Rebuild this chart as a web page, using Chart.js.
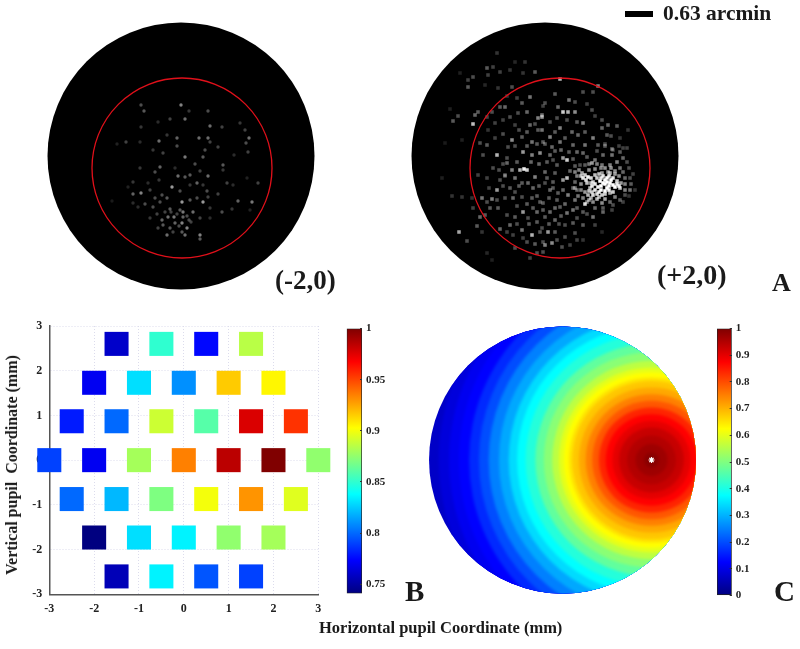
<!DOCTYPE html>
<html lang="en">
<head>
  <meta charset="UTF-8" />
  <title>Pupil coordinate maps</title>
  <script src="https://cdn.jsdelivr.net/npm/chart.js"></script>
  <style>
    html, body { margin: 0; background: #fff; }
    #page {
      position: relative;
      width: 800px;
      height: 649px;
      overflow: hidden;
      filter: blur(0.45px);
      font-family: 'Liberation Serif', serif;
      font-weight: bold;
      color: #1a1a1a;
    }
    canvas, .label, #bar { position: absolute; }
    .label { white-space: pre; line-height: 1; }
    #bar { left: 625px; top: 11px; width: 28px; height: 6px; background: #000; }
  </style>
</head>
<body>
<div id="page">
  <canvas id="spotLeft" width="268" height="268" style="left:47px;top:22px"></canvas>
  <canvas id="spotRight" width="268" height="268" style="left:411px;top:22px"></canvas>
  <canvas id="pupilMap" width="340" height="325" style="left:0;top:300px"></canvas>
  <canvas id="pupilBar" width="60" height="290" style="left:340px;top:316px"></canvas>
  <canvas id="fitMap" width="267" height="268" style="left:429px;top:326px"></canvas>
  <canvas id="fitBar" width="60" height="292" style="left:710px;top:316px"></canvas>

  <div id="bar"></div>
  <div class="label" style="left:663px;top:3px;font-size:21.5px">0.63 arcmin</div>
  <div class="label" style="left:275px;top:267px;font-size:27px">(-2,0)</div>
  <div class="label" style="left:657px;top:261px;font-size:28px">(+2,0)</div>
  <div class="label" style="left:772px;top:270px;font-size:26px">A</div>
  <div class="label" style="left:405px;top:577px;font-size:29px">B</div>
  <div class="label" style="left:774px;top:577px;font-size:29px">C</div>
  <div class="label" style="left:319px;top:620px;font-size:16.5px">Horizontal pupil Coordinate (mm)</div>
  <div class="label" style="left:12px;top:465px;font-size:16px;transform:translate(-50%,-50%) rotate(-90deg)">Vertical pupil  Coordinate (mm)</div>
</div>

<script>
  // panel A, spots: [x, y, brightness], image px from the disk centre
  const leftSpots = [
    [0,-51,.6],[-40,-51,.35],[-37,-45,.4],[4,-37,.5],[27,-45,.35],[8,-45,.25],[29,-30,.5],[-11,-37,.3],
    [-23,-34,.2],[-40,-29,.25],[41,-29,.3],[59,-33,.25],[64,-26,.3],[68,-18,.5],[65,-13,.35],[18,-18,.5],
    [27,-18,.5],[-4,-18,.45],[-22,-15,.5],[-14,-21,.25],[-55,-14,.3],[-64,-12,.15],[-41,-14,.2],[29,-14,.3],
    [37,-9,.3],[-4,-10,.35],[-28,-6,.25],[-18,-3,.3],[4,1,.55],[24,-6,.35],[22,1,.4],[67,-4,.3],
    [53,-1,.2],[14,8,.35],[42,9,.4],[-21,11,.45],[-41,12,.25],[-26,16,.35],[19,15,.3],[-3,20,.5],
    [4,21,.4],[9,19,.4],[27,20,.5],[42,14,.25],[16,27,.45],[-22,24,.25],[-48,26,.25],[46,27,.3],
    [77,27,.3],[-9,31,.7],[-1,35,.35],[-31,34,.3],[-40,37,.6],[-48,38,.45],[26,35,.35],[37,38,.3],
    [-53,31,.15],[-19,39,.35],[-26,42,.35],[1,46,.7],[22,46,.7],[16,42,.35],[57,45,.45],[71,46,.55],
    [-36,48,.35],[-28,51,.35],[-48,47,.2],[-69,45,.12],[-11,53,.4],[12,56,.5],[2,56,.55],[-1,54,.4],
    [41,56,.35],[29,52,.25],[51,53,.25],[-7,61,.55],[-13,61,.5],[-19,64,.45],[1,67,.6],[-6,67,.45],
    [-18,69,.4],[6,72,.6],[-11,72,.4],[1,76,.4],[-14,79,.5],[4,79,.5],[19,79,.6],[19,83,.4],
    [-23,72,.3],[29,62,.2],[-31,62,.25],[19,62,.3],[69,54,.15],[-43,51,.2],[2,61,.45],[9,44,.4],
    [-14,42,.4],[-21,46,.35],[27,41,.3],[9,29,.25],[22,29,.25],[-6,12,.2],[-33,27,.2],[66,22,.15],
    [52,29,.2],[-10,56,.3],[-4,58,.3],[8,64,.35],[-24,58,.3],[-16,56,.3],[-2,70,.35],[10,66,.3],
    [-8,76,.3],[6,60,.35]
  ];
  const rightSpots = [
    [-48,-103,.2],[-58,-88,.35],[-52,-89,.25],[-45,-84,.25],[-35,-86,.2],[-30,-94,.15],[-20,-94,.2],[-10,-84,.35],
    [-22,-83,.2],[-77,-76,.25],[-72,-79,.3],[-77,-69,.35],[-57,-81,.25],[-85,-83,.12],[-33,-69,.3],[-47,-68,.2],
    [-60,-71,.15],[-15,-59,.45],[-23,-53,.35],[-40,-49,.4],[-45,-49,.35],[-67,-44,.35],[-70,-41,.4],[-87,-40,.3],
    [-92,-35,.35],[-95,-47,.12],[-72,-32,.75],[-58,-39,.25],[-53,-44,.3],[-7,-38,.5],[-3,-41,.45],[-18,-44,.4],
    [-27,-43,.3],[-35,-39,.3],[-15,-31,.4],[-42,-36,.25],[-50,-33,.25],[-30,-31,.25],[-7,-26,.35],[-57,-26,.2],
    [-33,-16,.55],[-23,-19,.35],[-13,-14,.45],[-58,-11,.35],[-65,-13,.3],[-48,-1,.7],[-22,-4,.6],[-13,-1,.5],
    [-5,-3,.55],[-37,-9,.3],[-83,-16,.12],[-100,-13,.1],[-38,2,.3],[-62,-1,.3],
    [-21,13,.95],[-25,14,.7],[-18,14,.8],[-38,7,.4],[-33,14,.5],[-40,19,.35],[-30,22,.45],[-48,34,.6],
    [-45,24,.3],[-58,22,.25],[-67,19,.25],[-10,21,.5],[-17,27,.4],[-23,27,.35],[-35,32,.35],[-63,42,.45],
    [-53,43,.5],[-40,42,.3],[-32,42,.4],[-23,41,.3],[-13,42,.35],[-5,46,.35],[-73,42,.2],[-83,41,.2],
    [-93,40,.2],[-103,22,.12],[-47,52,.35],[-55,52,.35],[-22,56,.6],[-30,61,.35],[-38,59,.3],[-60,59,.35],
    [-65,61,.4],[-8,56,.4],[-17,62,.3],[-35,69,.4],[-45,73,.4],[-68,70,.35],[-23,74,.45],[-13,79,.7],
    [-32,79,.25],[-86,76,.65],[-78,85,.3],[-63,76,.2],[-5,76,.35],[-22,82,.25],[-2,86,.3],[-30,92,.3],
    [-58,97,.15],[-15,102,.25],[-53,104,.12],[-8,97,.3],
    [15,-77,.7],[53,-70,.5],[24,-56,.45],[10,-62,.35],[38,-64,.3],[48,-64,.3],[18,-44,.8],[23,-44,.7],
    [30,-44,.55],[13,-49,.4],[0,-53,.3],[-3,-39,.6],[5,-34,.3],[47,-46,.3],[57,-36,.3],[38,-33,.5],
    [63,-31,.4],[72,-30,.35],[57,-28,.4],[83,-26,.2],[27,-24,.4],[15,-28,.5],[5,-19,.5],[33,-21,.4],
    [48,-18,.5],[62,-21,.35],[75,-18,.2],[-3,-26,.45],[40,-11,.45],[28,-11,.4],[15,-14,.45],[53,-11,.35],
    [67,-7,.4],[82,-8,.25],[7,-9,.4],
    [62,22,1],[58,27,1],[65,27,1],[70,31,1],[53,31,.95],[62,32,1],[48,26,.8],[43,21,.95],
    [38,22,.9],[50,19,.75],[57,17,.6],[65,17,.65],[75,32,.8],[80,34,.5],[85,34,.45],[45,32,.7],
    [48,39,.85],[43,39,.7],[57,39,.8],[65,37,.65],[40,36,.6],[37,17,.65],[47,7,.6],[50,4,.45],
    [65,9,.5],[72,6,.5],[67,-1,.45],[78,2,.4],[75,-4,.35],[85,22,.3],[80,22,.4],[75,12,.45],
    [57,9,.45],[35,9,.3],[22,4,.8],[18,2,.6],[22,22,.75],[18,24,.6],[5,-1,.4],[12,9,.35],
    [0,16,.4],[10,17,.35],[30,26,.4],[8,26,.35],[5,34,.4],[0,27,.3],[23,39,.5],[18,34,.4],
    [32,34,.4],[13,37,.35],[30,44,.45],[40,48,.85],[57,47,.55],[48,46,.55],[65,46,.4],[75,44,.35],
    [38,56,.35],[48,61,.45],[58,56,.4],[67,54,.25],[28,54,.45],[22,57,.45],[15,51,.35],[5,56,.4],
    [-2,47,.35],[10,64,.4],[0,61,.35],[28,67,.35],[38,69,.35],[20,69,.3],[50,69,.25],[3,76,.6],
    [10,76,.35],[20,81,.3],[30,77,.3],[0,89,.5],[7,87,.55],[17,91,.3],[-2,96,.3],[25,89,.25],
    [38,84,.2],[57,76,.15],[-3,72,.3],
    [56,22,.9],[52,22,.8],[68,22,.9],[72,25,.8],[60,35,1],[54,36,.9],[68,36,.8],[46,27,.7],
    [42,27,.75],[76,27,.6],[63,16,.6],[70,15,.55],[56,12,.5],[50,13,.55],[44,14,.55],[40,9,.35],
    [78,16,.4],[86,28,.35],[90,34,.2],[36,28,.55],[33,40,.45],[38,42,.5],[52,43,.7],[60,43,.65],
    [70,41,.5],[80,39,.3],[44,44,.6],[28,32,.4],[25,15,.4],[30,10,.35],[42,1,.35],[58,-1,.4],
    [52,-5,.3],[68,-6,.25],
    [55,25,1],[60,24,1],[66,24,1],[56,30,1],[64,30,1],[68,29,1],[50,28,.9],[47,30,.9],
    [50,34,.9],[56,34,1],[64,34,.95],[72,28,.9],[74,30,.9],[60,28,1],[62,26,1],[58,20,.9],
    [64,20,.9],[54,18,.75],[46,22,.85],[41,24,.85],[40,19,.8],[36,20,.75],[44,35,.75],[47,36,.8],
    [52,38,.85],[60,38,.8],[46,42,.65],[54,41,.7],
    [-30,-10,.3],[-18,-10,.35],[-8,-12,.35],[0,-12,.35],[10,-5,.35],[16,-6,.4],[24,-4,.35],[32,-4,.4],
    [38,-3,.4],[-42,8,.3],[-28,6,.35],[-14,6,.4],[-6,8,.4],[2,6,.35],[8,4,.3],[28,3,.35],
    [-52,12,.3],[-46,14,.3],[-26,30,.35],[-12,32,.4],[-6,30,.35],[2,22,.35],[8,32,.35],[-30,36,.3],
    [-42,30,.3],[-8,40,.35],[4,42,.35],[12,44,.35],[20,48,.4],[-18,48,.35],[-28,50,.3],[-12,52,.35],
    [-2,54,.35],[10,52,.4],[32,52,.35],[42,58,.3],[16,60,.35],[-16,68,.35],[-8,66,.35],[4,68,.35],
    [14,68,.3],[32,62,.3],[-28,68,.3],[-38,76,.25],[-18,86,.3],[-10,88,.35],[12,84,.3],[32,84,.25],
    [-40,20,.3],[-56,32,.25],[-48,44,.3],[-58,46,.3],[-72,52,.25],[-26,-26,.3],[-18,-24,.35],[-10,-32,.3],
    [-42,-22,.3],[-50,-18,.25],[-2,-14,.35],[10,-24,.35],[20,-18,.35],[40,-24,.35],[22,-36,.3],[32,-34,.35],
    [12,-38,.3],[-2,-50,.25],[30,-54,.3],[42,-52,.25],[-28,-58,.25],[-38,-60,.2],[50,-40,.25],[66,-20,.3],
    [60,-10,.35],[74,-10,.25],
    [84,12,.3],[88,18,.25],[82,6,.3],[78,-8,.25],[60,-12,.3],[30,16,.5],[32,20,.5],[30,32,.45],
    [36,34,.5],[42,46,.5],[50,52,.4],[58,52,.35],[68,49,.3],[78,46,.25],[84,40,.2],[70,18,.6],
    [74,20,.55],[80,28,.5],[66,12,.55],[60,12,.55],[52,8,.5],[44,8,.45],[34,14,.5]
  ];
  const leftCircle = [{ x: 1, y: 12 }];
  const rightCircle = [{ x: 15, y: 12 }];
  const diskRadius = 134;
  const circleRadius = 90;

  // panel B, correlation per pupil entry point
  const pupilX = [
    -1.5, -0.5, 0.5, 1.5,
    -2, -1, 0, 1, 2,
    -2.5, -1.5, -0.5, 0.5, 1.5, 2.5,
    -3, -2, -1, 0, 1, 2, 3,
    -2.5, -1.5, -0.5, 0.5, 1.5, 2.5,
    -2, -1, 0, 1, 2,
    -1.5, -0.5, 0.5, 1.5
  ];
  const pupilY = [
    2.6, 2.6, 2.6, 2.6,
    1.73, 1.73, 1.73, 1.73, 1.73,
    0.87, 0.87, 0.87, 0.87, 0.87, 0.87,
    0, 0, 0, 0, 0, 0, 0,
    -0.87, -0.87, -0.87, -0.87, -0.87, -0.87,
    -1.73, -1.73, -1.73, -1.73, -1.73,
    -2.6, -2.6, -2.6, -2.6
  ];
  const pupilValues = [
    0.76, 0.85, 0.775, 0.885,
    0.77, 0.83, 0.81, 0.916, 0.905,
    0.78, 0.80, 0.89, 0.86, 0.977, 0.955,
    0.79, 0.77, 0.88, 0.935, 0.985, 1.0, 0.875,
    0.80, 0.82, 0.87, 0.9, 0.93, 0.895,
    0.741, 0.83, 0.835, 0.875, 0.88,
    0.755, 0.835, 0.795, 0.79
  ];
  const pupilBarTicks = [0.75, 0.8, 0.85, 0.9, 0.95, 1];

  // panel C, fitted field read along the row through the peak (distance in mm, value)
  const peakX = 2;
  const peakY = 0;
  const ringRadius = [5.05, 4.78, 4.55, 4.33, 4.10, 3.88, 3.66, 3.43, 3.21, 3.02, 2.83, 2.61, 2.42, 2.23,
    2.08, 1.97, 1.86, 1.78, 1.63, 1.48, 1.33, 1.18, 1.03, 0.88, 0.73, 0.55, 0.36, 0.17];
  const ringValues = [0.07, 0.09, 0.11, 0.125, 0.165, 0.2, 0.25, 0.29, 0.34, 0.375, 0.41, 0.47, 0.51, 0.56,
    0.6, 0.625, 0.65, 0.68, 0.71, 0.75, 0.79, 0.84, 0.875, 0.9, 0.93, 0.95, 0.97, 0.99];
  const fitBarTicks = [0, 0.1, 0.2, 0.3, 0.4, 0.5, 0.6, 0.7, 0.8, 0.9, 1];

  Chart.defaults.animation = false;
  Chart.defaults.responsive = false;
  Chart.defaults.devicePixelRatio = 1;
  Chart.defaults.layout.autoPadding = false;
  Chart.defaults.font.family = "'Liberation Serif', serif";
  Chart.defaults.font.weight = 'bold';
  Chart.defaults.color = '#222';
  Chart.defaults.plugins.legend.display = false;
  Chart.defaults.plugins.tooltip.enabled = false;

  function jet(t) {
    const c = k => Math.round(255 * Math.min(1, Math.max(0, 1.5 - Math.abs(4 * t - k))));
    return `rgb(${c(3)},${c(2)},${c(1)})`;
  }

  // the picture is a soft, upscaled image, so some datasets get drawn through a blur
  function soften(index, px) {
    return {
      id: 'soften',
      beforeDatasetDraw(chart, args) {
        if (args.index === index) {
          chart.ctx.save();
          chart.ctx.filter = `blur(${px}px)`;
        }
      },
      afterDatasetDraw(chart, args) {
        if (args.index === index) chart.ctx.restore();
      }
    };
  }

  function spotChart(id, spots, circle, style, size, blur, gain) {
    const radiusOf = (chart, r) =>
      Math.abs(chart.scales.x.getPixelForValue(r) - chart.scales.x.getPixelForValue(0));
    new Chart(document.getElementById(id), {
      type: 'scatter',
      plugins: [soften(1, blur)],
      data: {
        datasets: [
          {
            data: circle,
            pointRadius: c => radiusOf(c.chart, circleRadius),
            pointBackgroundColor: 'transparent',
            pointBorderColor: '#e0101a',
            pointBorderWidth: 1.3
          },
          {
            data: spots.map(s => ({ x: s[0], y: s[1] })),
            pointStyle: style,
            pointRadius: size,
            pointBorderWidth: 0,
            pointBackgroundColor: spots.map(s => `rgba(255,255,255,${s[2] * gain})`)
          },
          {
            data: [{ x: 0, y: 0 }],
            pointRadius: c => radiusOf(c.chart, diskRadius) - 0.5,
            pointBackgroundColor: '#000',
            pointBorderColor: '#000',
            pointBorderWidth: 0
          }
        ]
      },
      options: {
        scales: {
          x: { display: false, min: -diskRadius, max: diskRadius },
          y: { display: false, min: -diskRadius, max: diskRadius, reverse: true }
        }
      }
    });
  }

  function colorBar(id, min, max, ticks, pad, barWidth) {
    new Chart(document.getElementById(id), {
      type: 'bar',
      data: {
        labels: ['value'],
        datasets: [{
          data: [[min, max]],
          barPercentage: 1,
          categoryPercentage: 1,
          borderWidth: 1,
          borderSkipped: false,
          borderColor: '#222',
          backgroundColor: c => {
            const a = c.chart.chartArea;
            if (!a) return '#000';
            const g = c.chart.ctx.createLinearGradient(0, a.bottom, 0, a.top);
            for (let i = 0; i <= 64; i++) g.addColorStop(i / 64, jet(i / 64));
            return g;
          }
        }]
      },
      options: {
        layout: { padding: pad },
        scales: {
          x: { display: false },
          y: {
            position: 'right',
            min: min,
            max: max,
            afterFit: s => { s.width = 60 - pad.left - barWidth; },
            afterBuildTicks: s => { s.ticks = ticks.map(v => ({ value: v })); },
            border: { display: false },
            grid: { drawOnChartArea: false, tickLength: -2, color: '#333', z: 1 },
            ticks: { padding: 6, font: { size: 11 }, callback: v => String(v) }
          }
        }
      }
    });
  }

  spotChart('spotLeft', leftSpots, leftCircle, 'circle', 1.7, 0.7, 0.85);
  spotChart('spotRight', rightSpots, rightCircle, 'rect', 2.5, 0.6, 1);

  const barMinB = 0.741;
  const gridOpts = { color: '#dcdcec', drawTicks: false };
  const borderOpts = { color: '#555', width: 1.5, dash: [1, 2] };
  new Chart(document.getElementById('pupilMap'), {
    type: 'scatter',
    data: {
      datasets: [{
        data: pupilX.map((x, i) => ({ x: x, y: pupilY[i] })),
        clip: false,
        pointStyle: 'rect',
        pointRadius: 17,
        pointBorderWidth: 0,
        pointBackgroundColor: pupilValues.map(v => jet((v - barMinB) / (1 - barMinB)))
      }]
    },
    options: {
      layout: { padding: { top: 26, right: 21.7 } },
      scales: {
        x: {
          min: -3, max: 3,
          afterFit: s => { s.height = 30.7; },
          grid: gridOpts, border: borderOpts,
          ticks: { stepSize: 1, padding: 7, maxRotation: 0, font: { size: 12 } }
        },
        y: {
          min: -3, max: 3,
          afterFit: s => { s.width = 49.3; },
          grid: gridOpts, border: borderOpts,
          ticks: { stepSize: 1, padding: 7, font: { size: 12 } }
        }
      }
    }
  });
  colorBar('pupilBar', barMinB, 1, pupilBarTicks, { top: 10.7, bottom: 11.7, left: 6.7 }, 15.3);

  // keep the field inside the 3 mm pupil
  const pupilClip = {
    id: 'pupilClip',
    beforeDatasetsDraw(chart) {
      const { x, y } = chart.scales;
      const ctx = chart.ctx;
      ctx.save();
      ctx.beginPath();
      ctx.arc(x.getPixelForValue(0), y.getPixelForValue(0), x.getPixelForValue(3) - x.getPixelForValue(0), 0, Math.PI * 2);
      ctx.clip();
    },
    afterDatasetsDraw(chart) {
      chart.ctx.restore();
    }
  };

  new Chart(document.getElementById('fitMap'), {
    type: 'scatter',
    plugins: [pupilClip, soften(1, 1.8)],
    data: {
      datasets: [
        {
          order: 0,
          data: [{ x: peakX, y: peakY }],
          pointStyle: 'star',
          pointRadius: 3,
          pointBorderColor: '#fff',
          pointBorderWidth: 1.2
        },
        {
          order: 1,
          data: ringRadius.map(() => ({ x: peakX, y: peakY })),
          clip: false,
          pointRadius: c => {
            const s = c.chart.scales.x;
            return s.getPixelForValue(ringRadius[c.dataIndex]) - s.getPixelForValue(0);
          },
          pointBorderWidth: 0,
          pointBackgroundColor: ringValues.map(jet)
        }
      ]
    },
    options: {
      scales: {
        x: { display: false, min: -3, max: 3 },
        y: { display: false, min: -3, max: 3 }
      }
    }
  });
  colorBar('fitBar', 0, 1, fitBarTicks, { top: 10, bottom: 10, left: 7 }, 14.7);
</script>
</body>
</html>
